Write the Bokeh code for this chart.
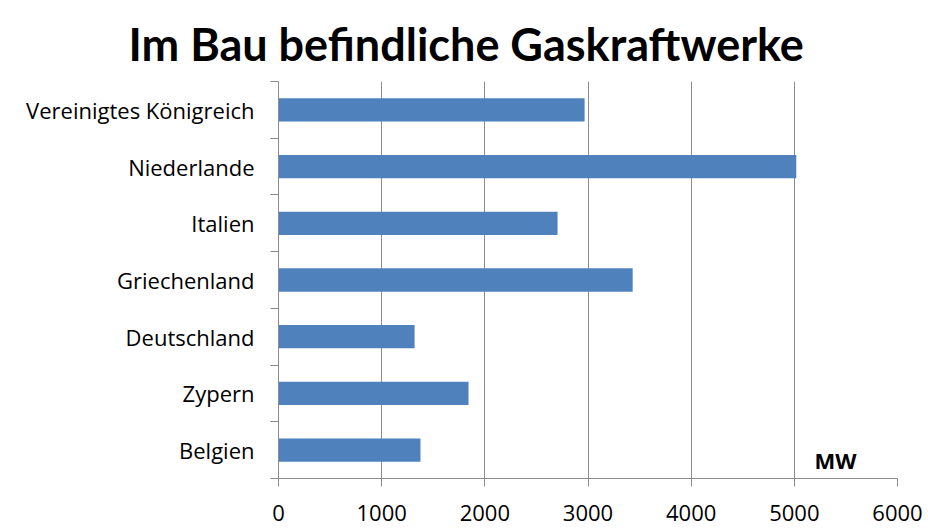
from bokeh.plotting import figure
from bokeh.models import FixedTicker, Label, Range1d, ColumnDataSource
from bokeh.embed import file_html
from bokeh.resources import INLINE

countries = ["Belgien", "Zypern", "Deutschland", "Griechenland", "Italien", "Niederlande", "Vereinigtes Königreich"]
mw = [1376, 1842, 1319, 3433, 2705, 5019, 2967]
x_ticks = [0, 1000, 2000, 3000, 4000, 5000, 6000]

pos = [i + 0.5 for i in range(len(countries))]
src = ColumnDataSource(dict(y=pos, right=mw, name=countries))

FONT = "Open Sans"
p = figure(width=928, height=528, output_backend="svg", toolbar_location=None,
           x_range=Range1d(0, 6000), y_range=Range1d(0, len(countries)),
           title="Im Bau befindliche Gaskraftwerke",
           min_border_left=278, min_border_right=31, min_border_top=81, min_border_bottom=50)
p.title.align = "left"
p.title.offset = -150
p.title.standoff = 22
p.title.text_font = "Lato"
p.title.text_font_size = "45px"
p.title.text_font_style = "bold"
p.title.text_color = "black"

p.hbar(y="y", left=0, right="right", height=0.41, source=src,
       fill_color="#4F81BD", line_color=None)

p.outline_line_color = None
p.ygrid.grid_line_color = None
p.xgrid.grid_line_color = "#8C8C8C"
p.xgrid.grid_line_width = 1
p.xaxis.ticker = FixedTicker(ticks=x_ticks)
p.xaxis.axis_line_color = "#8C8C8C"
p.xaxis.major_tick_line_color = "#8C8C8C"
p.xaxis.major_tick_out = 8
p.xaxis.major_tick_in = 0
p.xaxis.minor_tick_line_color = None
p.xaxis.major_label_standoff = 18
p.xaxis.major_label_text_font = FONT
p.xaxis.major_label_text_font_size = "22px"
p.xaxis.major_label_text_color = "black"

p.yaxis.ticker = FixedTicker(ticks=pos, minor_ticks=list(range(len(countries) + 1)))
p.yaxis.major_label_overrides = {pp: c for pp, c in zip(pos, countries)}
p.yaxis.axis_line_color = "#8C8C8C"
p.yaxis.major_tick_line_color = None
p.yaxis.minor_tick_line_color = "#8C8C8C"
p.yaxis.minor_tick_out = 8
p.yaxis.minor_tick_in = 0
p.yaxis.major_label_standoff = 16
p.yaxis.major_label_text_font = FONT
p.yaxis.major_label_text_font_size = "22px"
p.yaxis.major_label_text_color = "black"

p.add_layout(Label(x=5400, y=0.32, text="MW", text_font=FONT, text_font_size="22px",
                   text_font_style="bold", text_align="center", text_baseline="middle",
                   text_color="black"))

open("out.html", "w").write(file_html(p, INLINE))
